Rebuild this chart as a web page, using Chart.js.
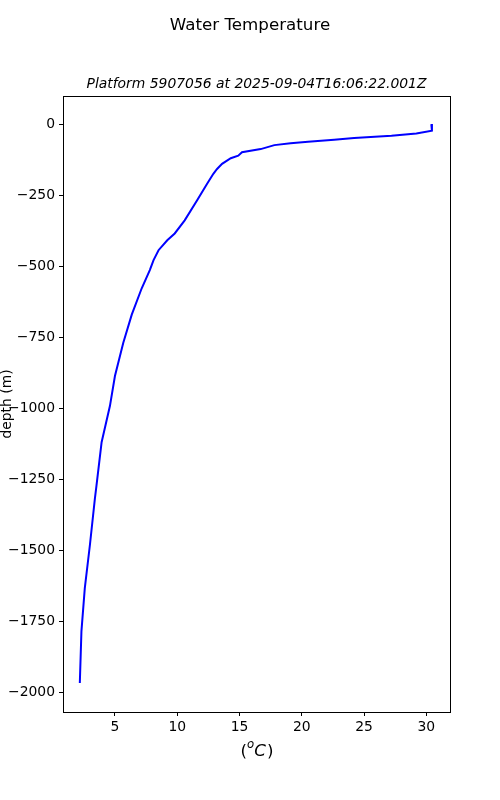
<!DOCTYPE html>
<html>
<head>
<meta charset="utf-8">
<script src="https://cdn.jsdelivr.net/npm/chart.js@4"></script>
<style>
  body { margin: 0; background: #fff; }
  #wrap { width: 500px; height: 800px; }
</style>
</head>
<body>
<div id="wrap"><canvas id="profileChart" width="500" height="800"></canvas></div>
<script>
// profile data (deg C vs depth in m)
var temps = [30.4, 30.45, 29.2, 27.2, 24.2, 22.6, 20.5, 19.1, 17.8, 16.7, 15.2, 14.9, 14.3, 13.6, 13.2, 12.9, 12.4, 11.6, 10.6, 9.8, 9.2, 8.5, 8.1, 7.8, 7.15, 6.35, 5.67, 5.0, 4.6, 3.93, 3.52, 3.39, 2.99, 2.58, 2.31, 2.18];
var depths = [0, -23, -33, -41, -49, -55, -62, -67, -74, -88, -99, -111, -120, -140, -158, -175, -210, -268, -339, -385, -409, -444, -479, -514, -578, -671, -770, -887, -992, -1120, -1272, -1319, -1482, -1634, -1786, -1968];
var xTicks = [5, 10, 15, 20, 25, 30];
var yTicks = [0, -250, -500, -750, -1000, -1250, -1500, -1750, -2000];

var points = [];
for (var i = 0; i < temps.length; i++) {
  points.push({ x: temps[i], y: depths[i] });
}

function minus(v) {
  return String(v).replace("-", "\u2212");
}

// titles + box drawn by hand, matplotlib style
var textPlugin = {
  id: "textPlugin",
  afterDraw: function (chart) {
    var c = chart.ctx;
    var a = chart.chartArea;
    var mid = (a.left + a.right) / 2;
    c.save();
    c.strokeStyle = "#000";
    c.lineWidth = 1;
    c.strokeRect(Math.round(a.left) + 0.5, Math.round(a.top) + 0.5, Math.round(a.right - a.left), Math.round(a.bottom - a.top));

    c.fillStyle = "#000";
    c.textAlign = "center";
    c.textBaseline = "alphabetic";
    c.font = "16.7px 'DejaVu Sans'";
    c.fillText("Water Temperature", 250, 30);

    c.font = "italic 13.9px 'DejaVu Sans'";
    c.fillText("Platform 5907056 at 2025-09-04T16:06:22.001Z", mid, 88);

    // y label
    c.save();
    c.translate(11, (a.top + a.bottom) / 2);
    c.rotate(-Math.PI / 2);
    c.font = "13.9px 'DejaVu Sans'";
    c.fillText("depth (m)", 0, 0);
    c.restore();

    // x label (^oC)
    c.font = "16.7px 'DejaVu Sans'";
    var w1 = c.measureText("(").width;
    c.font = "italic 11.7px 'DejaVu Sans'";
    var wo = c.measureText("o").width;
    c.font = "italic 16.7px 'DejaVu Sans'";
    var wc = c.measureText("C").width;
    c.font = "16.7px 'DejaVu Sans'";
    var w3 = c.measureText(")").width;
    var x0 = mid - (w1 + wo + wc + w3) / 2;
    c.textAlign = "left";
    c.font = "16.7px 'DejaVu Sans'";
    c.fillText("(", x0, 756);
    c.font = "italic 11.7px 'DejaVu Sans'";
    c.fillText("o", x0 + w1, 748);
    c.font = "italic 16.7px 'DejaVu Sans'";
    c.fillText("C", x0 + w1 + wo, 756);
    c.font = "16.7px 'DejaVu Sans'";
    c.fillText(")", x0 + w1 + wo + wc + 1, 756);
    c.restore();
  }
};

var ctx = document.getElementById("profileChart").getContext("2d");
var profileChart = new Chart(ctx, {
  type: "scatter",
  data: {
    datasets: [
      {
        data: points,
        showLine: true,
        borderColor: "#0000ff",
        borderWidth: 2,
        pointRadius: 0,
        fill: false,
      },
    ],
  },
  options: {
    responsive: false,
    animation: false,
    layout: { padding: { left: 0, right: 50, top: 96, bottom: 28 } },
    plugins: { legend: { display: false }, tooltip: { enabled: false } },
    scales: {
      x: {
        type: "linear",
        min: 0.83,
        max: 31.9,
        afterBuildTicks: function (s) {
          s.ticks = xTicks.map(function (v) { return { value: v }; });
        },
        afterFit: function (s) { s.height = 60; },
        ticks: {
          color: "#000",
          padding: 3,
          font: { family: "DejaVu Sans", size: 13.9 },
          callback: function (v) { return minus(v); },
        },
        grid: { drawOnChartArea: false, tickLength: 4, color: "#000" },
        border: { display: true, color: "#000" },
      },
      y: {
        type: "linear",
        min: -2070,
        max: 99,
        afterBuildTicks: function (s) {
          s.ticks = yTicks.map(function (v) { return { value: v }; });
        },
        afterFit: function (s) { s.width = 63; },
        ticks: {
          color: "#000",
          padding: 4,
          font: { family: "DejaVu Sans", size: 13.9 },
          callback: function (v) { return minus(v); },
        },
        grid: { drawOnChartArea: false, tickLength: 4, color: "#000" },
        border: { display: true, color: "#000" },
      },
    },
  },
  plugins: [textPlugin],
});
</script>
</body>
</html>
